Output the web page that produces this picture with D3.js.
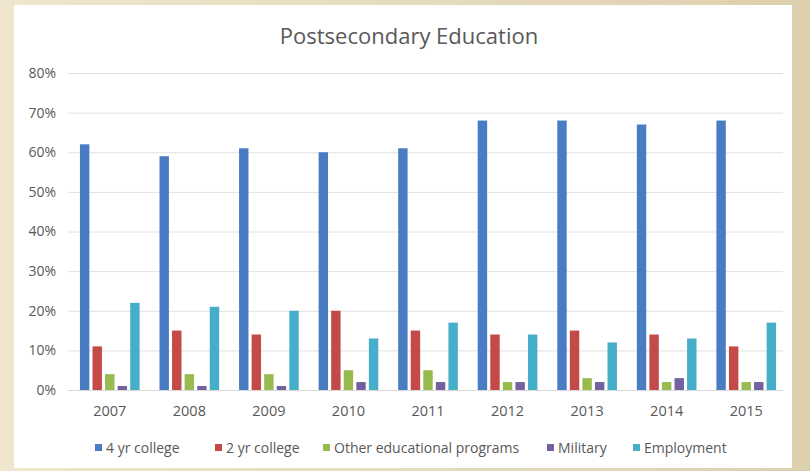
<!DOCTYPE html>
<html><head><meta charset="utf-8">
<script src="https://cdn.jsdelivr.net/npm/d3@7"></script>
<style>html,body{margin:0;padding:0;background:#ece2c6;}svg{display:block;}</style>
</head><body>
<script>
const years = ["2007","2008","2009","2010","2011","2012","2013","2014","2015"];
const seriesNames = ["4 yr college","2 yr college","Other educational programs","Military","Employment"];
const fourYear = [62,59,61,60,61,68,68,67,68];
const twoYear = [11,15,14,20,15,14,15,14,11];
const otherPrograms = [4,4,4,5,5,2,3,2,2];
const military = [1,1,1,2,2,2,2,3,2];
const employment = [22,21,20,13,17,14,12,13,17];
const yTicks = [0,10,20,30,40,50,60,70,80];
const colors = ["#4a7cc4","#c44a48","#98bb50","#7260a0","#45aec8"];

const seriesValues = [fourYear, twoYear, otherPrograms, military, employment];
const W = 810, H = 471;
const svg = d3.select("body").append("svg").attr("width", W).attr("height", H);
const defs = svg.append("defs");
const lg = defs.append("linearGradient").attr("id","bg").attr("x1",0).attr("x2",1).attr("y1",0).attr("y2",0);
lg.append("stop").attr("offset","0%").attr("stop-color","#efe6cd");
lg.append("stop").attr("offset","100%").attr("stop-color","#ddd0ae");
svg.append("rect").attr("width",W).attr("height",H).attr("fill","url(#bg)");
svg.append("rect").attr("x",14).attr("y",5).attr("width",778).attr("height",463).attr("fill","#ffffff");

const font = "'Open Sans', sans-serif";
const x0 = d3.scaleBand().domain(years).range([70, 786]).paddingInner(0.25).paddingOuter(0.125);
const x1 = d3.scaleBand().domain(seriesNames).range([0, x0.bandwidth()]).paddingInner(0.25);
const y = d3.scaleLinear().domain([0, 80]).range([390, 73]);

// gridlines
svg.append("g").selectAll("line").data(yTicks).join("line")
  .attr("x1", 68).attr("x2", 783)
  .attr("y1", d => y(d) + 0.5).attr("y2", d => y(d) + 0.5)
  .attr("stroke", "#e0e0e0").attr("stroke-width", 1);

// y axis labels
const yAxis = d3.axisLeft(y).tickValues(yTicks).tickFormat(d => d + "%").tickSize(0).tickPadding(0);
const ya = svg.append("g").attr("transform", "translate(56,0)").call(yAxis);
ya.select(".domain").remove();
ya.selectAll("text").attr("font-family", font).attr("font-size", 14).attr("fill", "#595959");

// bars
const groups = svg.append("g").selectAll("g").data(years).join("g")
  .attr("transform", d => `translate(${x0(d)},0)`);
groups.selectAll("rect").data((d, i) => seriesNames.map((s, k) => ({s, k, v: seriesValues[k][i]})))
  .join("rect")
  .attr("x", d => x1(d.s))
  .attr("width", x1.bandwidth())
  .attr("y", d => y(d.v))
  .attr("height", d => y(0) - y(d.v))
  .attr("fill", d => colors[d.k]);

// x axis
const xAxis = d3.axisBottom(x0).tickSize(0).tickPadding(0);
const xa = svg.append("g").attr("transform", "translate(0,406)").call(xAxis);
xa.select(".domain").remove();
xa.selectAll("text").attr("font-family", font).attr("font-size", 14.5).attr("fill", "#595959");

// baseline
svg.append("line").attr("x1",68).attr("x2",783).attr("y1",390.5).attr("y2",390.5).attr("stroke","#d9d9d9");

// title
svg.append("text").attr("x", 409).attr("y", 44).attr("text-anchor", "middle")
  .attr("font-family", font).attr("font-size", 22).attr("fill", "#595959")
  .text("Postsecondary Education");

// legend
const legendX = [95, 215, 323, 547, 633];
const leg = svg.append("g").selectAll("g").data(seriesNames).join("g")
  .attr("transform", (d, i) => `translate(${legendX[i]},448)`);
leg.append("rect").attr("x", 0).attr("y", -4).attr("width", 7).attr("height", 7).attr("fill", (d, i) => colors[i]);
leg.append("text").attr("x", 11).attr("y", 0).attr("dy", "0.35em")
  .attr("font-family", font).attr("font-size", 14).attr("fill", "#595959").text(d => d);
</script>
</body></html>
